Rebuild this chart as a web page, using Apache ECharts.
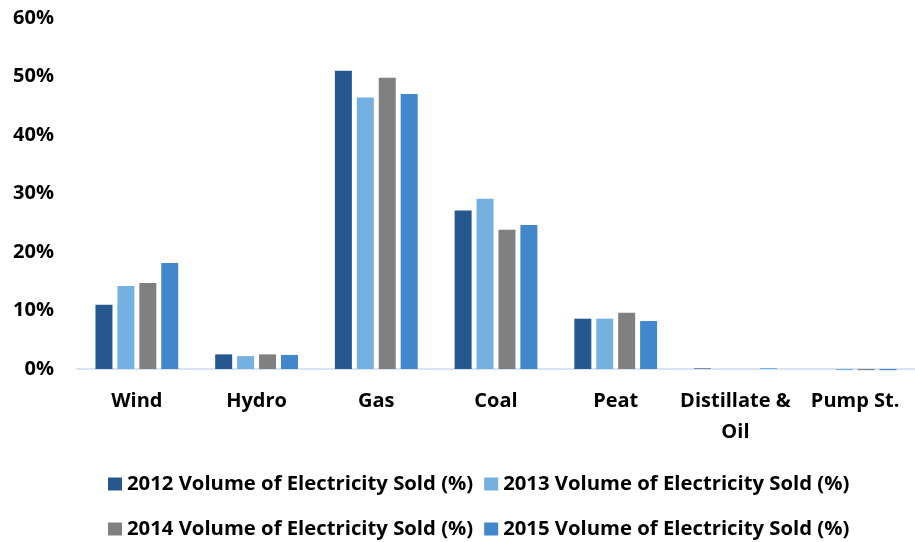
<!DOCTYPE html>
<html>
<head>
<meta charset="utf-8">
<script src="https://cdn.jsdelivr.net/npm/echarts@6/dist/echarts.min.js"></script>
<style>
html, body { margin: 0; padding: 0; background: #ffffff; }
#chart { width: 915px; height: 542px; }
</style>
</head>
<body>
<div id="chart"></div>
<script>
// Share of electricity sold by fuel type, 2012-2015
const categories = ['Wind', 'Hydro', 'Gas', 'Coal', 'Peat', 'Distillate &\nOil', 'Pump St.'];
const seriesNames = [
  '2012 Volume of Electricity Sold (%)',
  '2013 Volume of Electricity Sold (%)',
  '2014 Volume of Electricity Sold (%)',
  '2015 Volume of Electricity Sold (%)'
];
const sold2012 = [11.0, 2.5, 51.0, 27.1, 8.6, 0.1, 0.0];
const sold2013 = [14.2, 2.2, 46.4, 29.1, 8.6, 0.0, -0.2];
const sold2014 = [14.7, 2.5, 49.8, 23.8, 9.6, 0.0, -0.2];
const sold2015 = [18.1, 2.4, 47.0, 24.6, 8.2, 0.1, -0.2];
const yTicks = [0, 10, 20, 30, 40, 50, 60];

const colors = ['#26578f', '#74b1e1', '#808080', '#4287cc'];
const font = '"Open Sans", Lato, sans-serif';

const chart = echarts.init(document.getElementById('chart'), null, { renderer: 'canvas' });

const seriesData = [sold2012, sold2013, sold2014, sold2015];
const series = seriesData.map((d, i) => ({
  name: seriesNames[i],
  type: 'bar',
  data: d,
  barWidth: 17,
  barGap: '29%',
  clip: false,
  itemStyle: { color: colors[i] }
}));

const legendText = { fontFamily: font, fontWeight: 'bold', fontSize: 20.3, color: '#000000' };

chart.setOption({
  animation: false,
  color: colors,
  grid: { left: 77, top: 18, width: 845, bottom: 173 },
  legend: [
    {
      data: [seriesNames[0], seriesNames[1]],
      left: 108, top: 474, padding: 0, itemWidth: 14, itemHeight: 13, itemGap: 11,
      icon: 'rect', textStyle: legendText
    },
    {
      data: [seriesNames[2], seriesNames[3]],
      left: 108, top: 519, padding: 0, itemWidth: 14, itemHeight: 13, itemGap: 11,
      icon: 'rect', textStyle: legendText
    }
  ],
  xAxis: {
    type: 'category',
    data: categories,
    axisLine: { show: true, lineStyle: { color: '#d9e3f1', width: 2 } },
    axisTick: { show: false },
    axisLabel: {
      margin: 17, fontFamily: font, fontWeight: 'bold', fontSize: 20,
      color: '#000000', lineHeight: 31, interval: 0
    }
  },
  yAxis: {
    type: 'value',
    min: yTicks[0],
    max: yTicks[yTicks.length - 1],
    interval: 10,
    axisLine: { show: false },
    axisTick: { show: false },
    splitLine: { show: false },
    axisLabel: {
      margin: 23, fontFamily: font, fontWeight: 'bold', fontSize: 20,
      color: '#000000', formatter: v => v + '%'
    }
  },
  series: series
});
</script>
</body>
</html>
